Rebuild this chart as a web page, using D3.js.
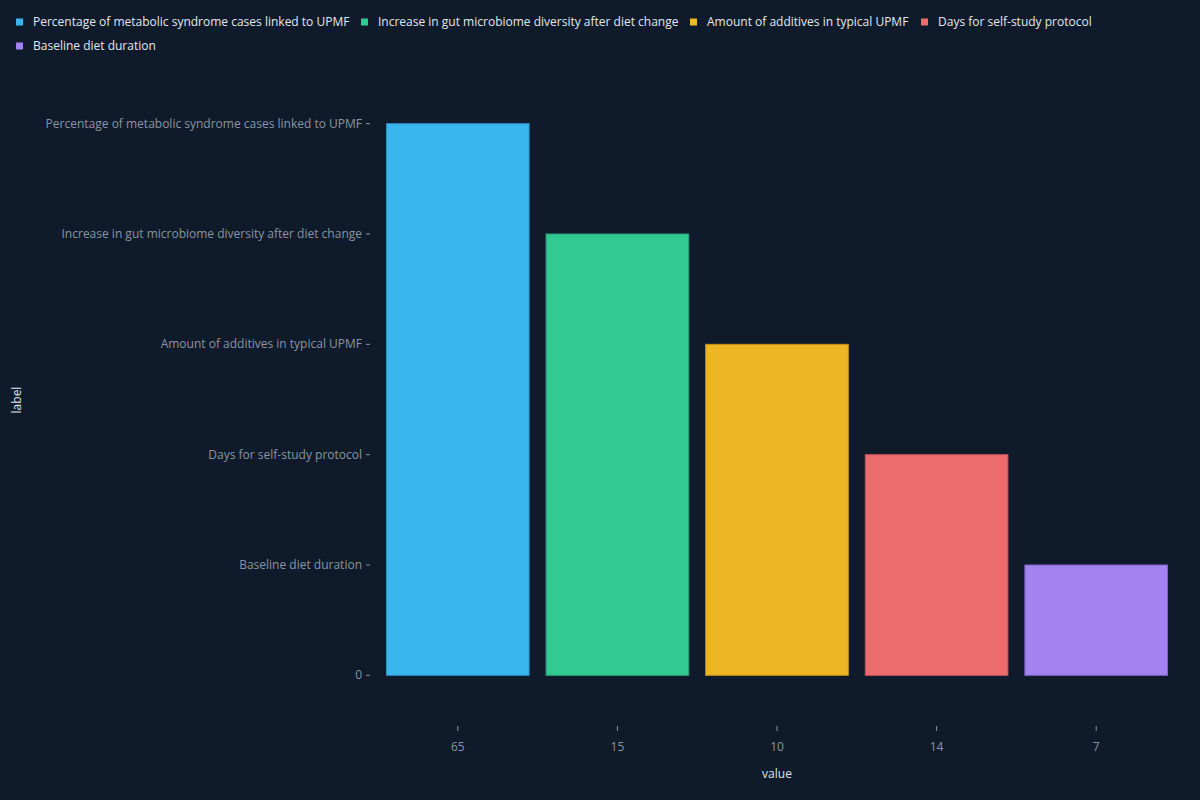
<!DOCTYPE html>
<html>
<head>
<meta charset="utf-8">
<script src="https://cdn.jsdelivr.net/npm/d3@7"></script>
<style>
	html, body { margin: 0; padding: 0; background: #0f1b2a; }
	svg { display: block; font-family: "Open Sans", "Noto Sans", sans-serif; }
	.axis text { fill: #8a94a3; font-size: 12px; font-family: "Open Sans", "Noto Sans", sans-serif; }
	.axis line { stroke: #8a94a3; }
	.axis path { display: none; }
	.legend text { fill: #e3e7ec; font-size: 12px; }
	.title { fill: #dfe3e8; font-size: 12px; }
</style>
</head>
<body>
<div class="chart"></div>
<script>
// data
const labels = [
	'Percentage of metabolic syndrome cases linked to UPMF',
	'Increase in gut microbiome diversity after diet change',
	'Amount of additives in typical UPMF',
	'Days for self-study protocol',
	'Baseline diet duration'
];
const values = [65, 15, 10, 14, 7];
const colors = ['#39b6ee', '#33c993', '#eeb524', '#ed6d6e', '#a283f0'];
const strokes = ['#2a8fc0', '#27a276', '#c29118', '#c35557', '#7f62c8'];

const outerW = 1200,
	outerH = 800;

const margin = { left: 378, right: 24, top: 69, bottom: 69 };
const w = outerW - margin.left - margin.right,
	h = outerH - margin.top - margin.bottom;

const svg = d3.select('.chart').append('svg')
	.attr('width', outerW)
	.attr('height', outerH);

svg.append('rect')
	.attr('width', outerW)
	.attr('height', outerH)
	.attr('fill', '#0f1b2a');

const g = svg.append('g')
	.attr('transform', `translate(${margin.left}, ${margin.top})`);

// x: one band per bar, labelled by value
const x = d3.scaleBand()
	.domain(d3.range(values.length))
	.range([0, w])
	.paddingInner(0.1)
	.paddingOuter(0.05);

// y: categorical, "0" at bottom then labels upwards
const yDomain = ['0'].concat(labels.slice().reverse());
const y = d3.scalePoint()
	.domain(yDomain)
	.range([h, 0])
	.padding(0.5);

g.append('g')
	.attr('class', 'x axis')
	.attr('transform', `translate(0, ${h})`)
	.call(d3.axisBottom(x)
		.tickFormat(i => values[i])
		.tickSize(5)
		.tickSizeOuter(0)
		.tickPadding(4)
	)
	.selectAll('line').attr('transform', 'translate(0,-5)');

g.select('.x.axis').selectAll('text').attr('dy', '0.9em');

g.append('g')
	.attr('class', 'y axis')
	.attr('transform', 'translate(-8, -1)')
	.call(d3.axisLeft(y)
		.tickSize(4)
		.tickSizeOuter(0)
		.tickPadding(4)
	);

// bars
g.selectAll('.bar')
	.data(labels)
	.enter().append('rect')
	.attr('class', 'bar')
	.attr('x', (d, i) => x(i) + 0.5)
	.attr('y', d => y(d) - 0.5)
	.attr('width', x.bandwidth() - 1)
	.attr('height', d => y('0') - y(d))
	.attr('fill', (d, i) => colors[i])
	.attr('stroke', (d, i) => strokes[i])
	.attr('stroke-width', 1);

// axis titles
svg.append('text')
	.attr('class', 'title')
	.attr('x', margin.left + w / 2)
	.attr('y', 778)
	.attr('text-anchor', 'middle')
	.text('value');

svg.append('text')
	.attr('class', 'title')
	.attr('transform', 'translate(21, 400) rotate(-90)')
	.attr('text-anchor', 'middle')
	.text('label');

// legend
const legend = svg.append('g').attr('class', 'legend');
const legendX = [16, 361, 690, 921, 16],
	legendY = [22, 22, 22, 22, 46];

const items = legend.selectAll('.item')
	.data(labels)
	.enter().append('g')
	.attr('class', 'item')
	.attr('transform', (d, i) => `translate(${legendX[i]}, ${legendY[i]})`);

items.append('rect')
	.attr('x', 0)
	.attr('y', -3.5)
	.attr('width', 7)
	.attr('height', 7)
	.attr('fill', (d, i) => colors[i]);

items.append('text')
	.attr('x', 17)
	.attr('dy', '0.35em')
	.text(d => d);
</script>
</body>
</html>
